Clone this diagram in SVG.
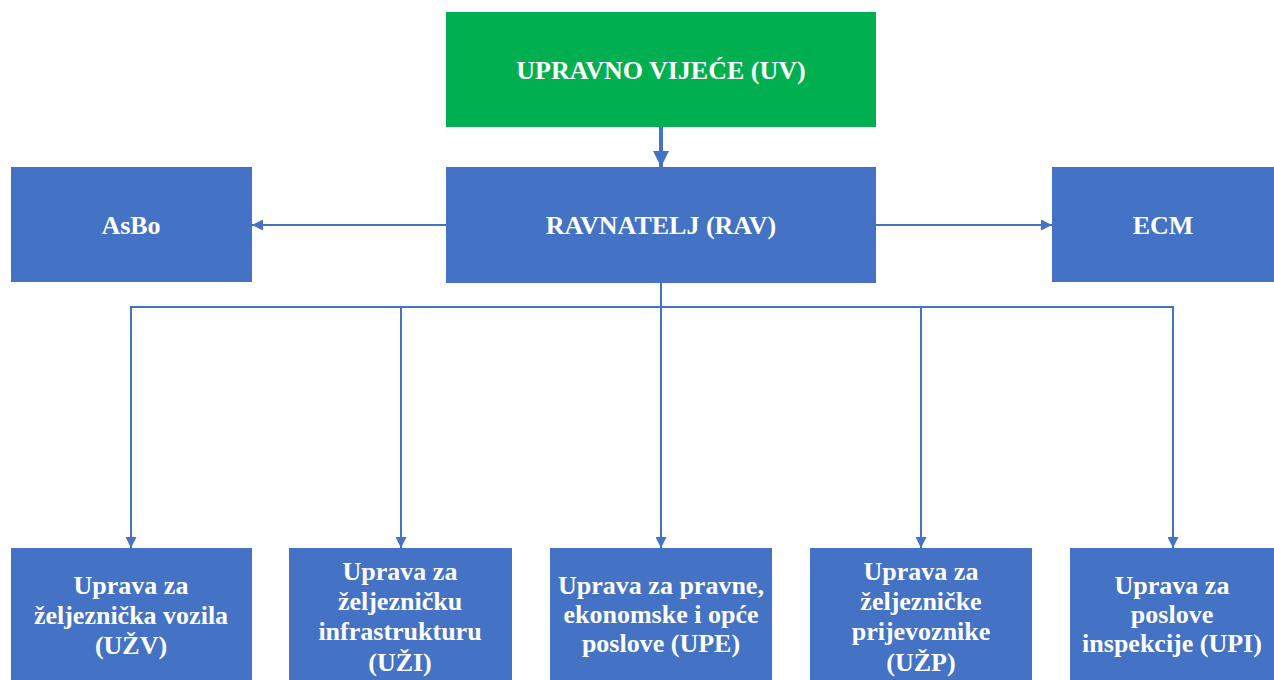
<svg xmlns="http://www.w3.org/2000/svg" width="1274" height="680" viewBox="0 0 1274 680">
<style>
.box{fill:#4472C4}
.green{fill:#00B050}
.t{font-family:"Liberation Serif","DejaVu Serif",serif;font-weight:bold;fill:#FFFFFF;text-anchor:middle;font-size:26px}
.ln{stroke:#4472C4;stroke-width:2;fill:none}
</style>
<defs>
<marker id="ah" viewBox="0 0 10 10" refX="10" refY="5" markerWidth="12" markerHeight="11" markerUnits="userSpaceOnUse" orient="auto">
<path d="M0,0 L10,5 L0,10 Z" fill="#4472C4"/>
</marker>
<marker id="ahb" viewBox="0 0 10 10" refX="10" refY="5" markerWidth="16" markerHeight="18" markerUnits="userSpaceOnUse" orient="auto">
<path d="M0,0 L10,5 L0,10 Z" fill="#4472C4"/>
</marker>
</defs>
<rect width="1274" height="680" fill="#FFFFFF"/>
<g id="connectors">
<line class="ln" x1="661" y1="127" x2="661" y2="167" style="stroke-width:4" marker-end="url(#ahb)"/>
<line class="ln" x1="446" y1="225" x2="252" y2="225" marker-end="url(#ah)"/>
<line class="ln" x1="876" y1="225" x2="1052" y2="225" marker-end="url(#ah)"/>
<line class="ln" x1="661" y1="283" x2="661" y2="548" marker-end="url(#ah)"/>
<polyline class="ln" points="131,548 131,307 1173,307 1173,548" marker-end="url(#ah)"/>
<line class="ln" x1="131" y1="307" x2="131" y2="548" marker-end="url(#ah)"/>
<line class="ln" x1="401" y1="307" x2="401" y2="548" marker-end="url(#ah)"/>
<line class="ln" x1="921" y1="307" x2="921" y2="548" marker-end="url(#ah)"/>
</g>
<g id="uv">
<rect class="green" x="446" y="12" width="430" height="115"/>
<text class="t" x="661" y="79">UPRAVNO VIJEĆE (UV)</text>
</g>
<g id="rav">
<rect class="box" x="446" y="167" width="430" height="116"/>
<text class="t" x="661" y="234">RAVNATELJ (RAV)</text>
</g>
<g id="asbo">
<rect class="box" x="11" y="167" width="241" height="115"/>
<text class="t" x="131" y="234">AsBo</text>
</g>
<g id="ecm">
<rect class="box" x="1052" y="167" width="222" height="115"/>
<text class="t" x="1163" y="234">ECM</text>
</g>
<g id="uzv">
<rect class="box" x="11" y="548" width="241" height="132"/>
<text class="t" x="131" y="594">Uprava za</text>
<text class="t" x="131" y="624">željeznička vozila</text>
<text class="t" x="131" y="654">(UŽV)</text>
</g>
<g id="uzi">
<rect class="box" x="289" y="548" width="223" height="132"/>
<text class="t" x="400" y="580">Uprava za</text>
<text class="t" x="400" y="610">željezničku</text>
<text class="t" x="400" y="640">infrastrukturu</text>
<text class="t" x="400" y="671">(UŽI)</text>
</g>
<g id="upe">
<rect class="box" x="550" y="548" width="222" height="132"/>
<text class="t" x="661" y="594">Uprava za pravne,</text>
<text class="t" x="661" y="623">ekonomske i opće</text>
<text class="t" x="661" y="652">poslove (UPE)</text>
</g>
<g id="uzp">
<rect class="box" x="810" y="548" width="222" height="132"/>
<text class="t" x="921" y="580">Uprava za</text>
<text class="t" x="921" y="610">željezničke</text>
<text class="t" x="921" y="640">prijevoznike</text>
<text class="t" x="921" y="671">(UŽP)</text>
</g>
<g id="upi">
<rect class="box" x="1070" y="548" width="204" height="132"/>
<text class="t" x="1172" y="594">Uprava za</text>
<text class="t" x="1172" y="623">poslove</text>
<text class="t" x="1172" y="652">inspekcije (UPI)</text>
</g>
</svg>
